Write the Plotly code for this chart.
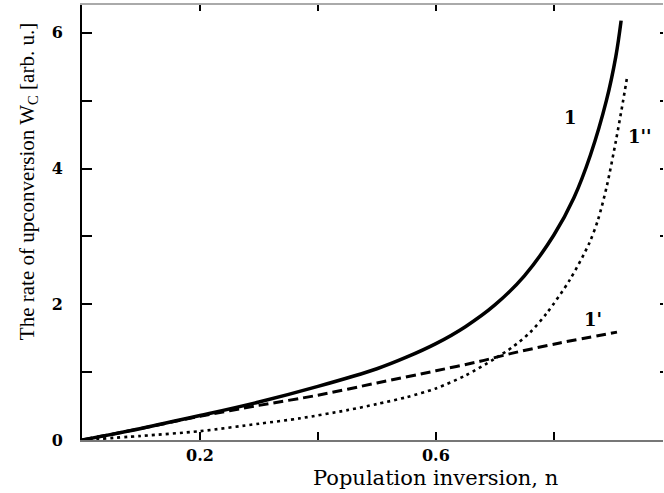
import plotly.graph_objects as go

# ---- data ----
n_solid = [0.0, 0.1, 0.2, 0.3, 0.4, 0.5, 0.55, 0.6, 0.65, 0.7, 0.75, 0.8, 0.834, 0.862, 0.889, 0.905, 0.914]
w_solid = [0.0, 0.17, 0.36, 0.56, 0.79, 1.05, 1.22, 1.42, 1.67, 1.99, 2.42, 3.02, 3.57, 4.2, 5.0, 5.65, 6.18]

n_dash = [0.0, 0.1, 0.2, 0.3, 0.4, 0.5, 0.6, 0.675, 0.73, 0.81, 0.907]
w_dash = [0.0, 0.17, 0.35, 0.51, 0.66, 0.84, 1.02, 1.16, 1.28, 1.43, 1.59]

n_dot = [0.0, 0.1, 0.2, 0.3, 0.37, 0.45, 0.5, 0.55, 0.6, 0.65, 0.7, 0.73, 0.759, 0.788, 0.827,
         0.86, 0.875, 0.89, 0.905, 0.917, 0.924]
w_dot = [0.0, 0.06, 0.13, 0.24, 0.32, 0.44, 0.53, 0.63, 0.76, 0.95, 1.2, 1.37, 1.58, 1.87, 2.36,
         2.9, 3.25, 3.75, 4.4, 4.98, 5.34]

x_all_ticks = [0.2, 0.4, 0.6, 0.8]
x_label_vals = [0.2, 0.6]
x_label_text = ["0.2", "0.6"]
y_all_ticks = [0, 1, 2, 3, 4, 5, 6]
y_label_vals = [0, 2, 4, 6]
y_label_text = ["0", "2", "4", "6"]

curve_labels = ["1", "1'", "1''"]
label_pos_n = [0.829, 0.866, 0.946]
label_pos_w = [4.75, 1.77, 4.47]

x_title = "Population inversion, n"
y_title = "The rate of upconversion W<sub>C</sub> [arb. u.]"

# ---- figure ----
fig = go.Figure()
fig.add_trace(go.Scatter(x=n_dot, y=w_dot, mode="lines", line=dict(color="black", width=2.6, dash="3px,4px", shape="spline", smoothing=0.8)))
fig.add_trace(go.Scatter(x=n_dash, y=w_dash, mode="lines", line=dict(color="black", width=3, dash="10px,5px", shape="spline", smoothing=0.8)))
fig.add_trace(go.Scatter(x=n_solid, y=w_solid, mode="lines", line=dict(color="black", width=3.5, shape="spline", smoothing=1.0)))
# empty trace to bind the mirror axes
fig.add_trace(go.Scatter(x=[], y=[], xaxis="x2", yaxis="y2", showlegend=False))

XR = [0, 0.985]
YR = [0, 6.41]
tickfont = dict(family="DejaVu Serif", size=16, color="black", weight="bold")

fig.update_layout(
    width=664, height=493,
    margin=dict(l=82, r=1, t=5, b=53),
    paper_bgcolor="white", plot_bgcolor="white",
    showlegend=False,
    xaxis=dict(range=XR, tickvals=x_label_vals, ticktext=x_label_text, ticks="inside",
               ticklen=8, tickwidth=2, tickcolor="black", showline=True, linecolor="#777",
               linewidth=2, showgrid=False, zeroline=False, tickfont=tickfont,
               ticklabelstandoff=0,
               minor=dict(tick0=0, dtick=0.2, ticks="inside", ticklen=8, tickwidth=2,
                          tickcolor="black", showgrid=False)),
    yaxis=dict(range=YR, tickvals=y_label_vals, ticktext=y_label_text, ticks="inside",
               ticklen=10, tickwidth=1.5, tickcolor="black", showline=True, linecolor="black",
               linewidth=2, showgrid=False, zeroline=False, tickfont=tickfont,
               ticklabelstandoff=14,
               minor=dict(tick0=0, dtick=1, ticks="inside", ticklen=10, tickwidth=1.5,
                          tickcolor="black", showgrid=False)),
    xaxis2=dict(range=XR, overlaying="x", side="top", anchor="y", tickvals=x_all_ticks,
                ticks="inside", ticklen=6, tickwidth=1.5, tickcolor="black", showline=True,
                linecolor="#aaa", linewidth=2, showticklabels=False, showgrid=False,
                zeroline=False),
    yaxis2=dict(range=YR, overlaying="y", side="right", anchor="x", tickvals=y_all_ticks,
                ticks="inside", ticklen=3, tickwidth=1.5, tickcolor="black", showline=False,
                showticklabels=False, showgrid=False, zeroline=False),
)

for t, xn, yw in zip(curve_labels, label_pos_n, label_pos_w):
    fig.add_annotation(x=xn, y=yw, text=t, showarrow=False,
                       font=dict(family="DejaVu Serif", size=18, color="black", weight="bold"))

fig.add_annotation(x=0.6076, y=-0.087, xref="paper", yref="paper", text=x_title,
                   showarrow=False, xanchor="center", yanchor="middle",
                   font=dict(family="DejaVu Serif", size=21, color="black"))
fig.add_annotation(x=-0.093, y=0.595, xref="paper", yref="paper", text=y_title,
                   showarrow=False, textangle=-90, xanchor="center", yanchor="middle",
                   font=dict(family="Liberation Serif", size=21, color="black"))

fig.write_html("out.html")
